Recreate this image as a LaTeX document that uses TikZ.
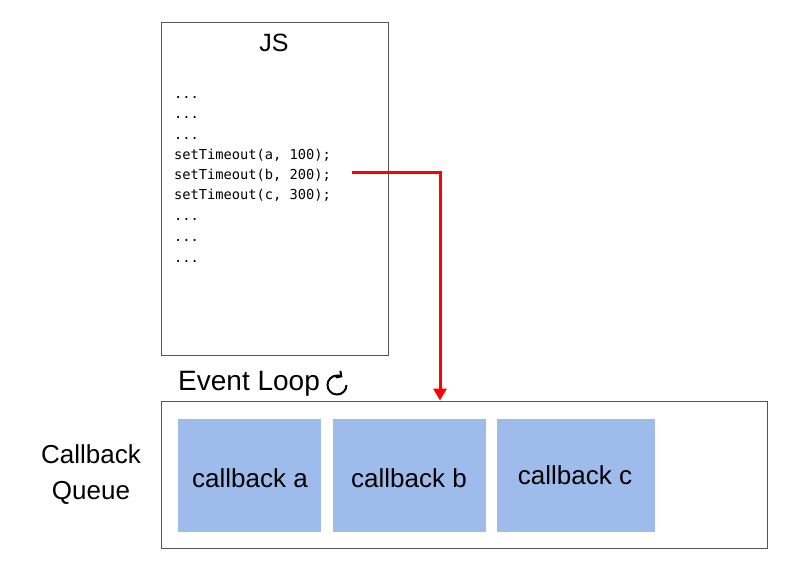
\documentclass[tikz,border=0pt]{standalone}
\usepackage{fontspec}
\setmainfont{Liberation Sans}
\setmonofont{DejaVu Sans Mono}
\usetikzlibrary{arrows.meta}
\definecolor{cbblue}{HTML}{9DBBEB}
\definecolor{boxgray}{HTML}{555555}
\begin{document}
\begin{tikzpicture}[x=1pt,y=-1pt,
  frame/.style={draw=boxgray,line width=1pt,fill=white},
  cbbox/.style={fill=cbblue,draw=none,minimum height=113pt,inner sep=0pt},
  cbtext/.style={inner sep=0pt,font=\fontsize{26}{28}\selectfont},
  codeline/.style={anchor=base west,inner sep=0pt,font=\ttfamily\fontsize{13.7}{16}\selectfont},
  redarrow/.style={draw=red,line width=3pt,-{Triangle[length=12pt,width=13pt]}}]
\useasboundingbox (0,0) rectangle (800,566);
\fill[white] (0,0) rectangle (800,566);
% JS box
\node[frame,minimum width=227pt,minimum height=333pt,inner sep=0pt] (js) at (274.5,188.5) {};
\node[inner sep=0pt,font=\fontsize{25}{28}\selectfont] (jst) at (274,43) {JS};
\node[codeline] (l1) at (174,98) {...};
\node[codeline] (l2) at (174,118) {...};
\node[codeline] (l3) at (174,139) {...};
\node[codeline] (l4) at (174,159) {setTimeout(a, 100);};
\node[codeline] (l5) at (174,179) {setTimeout(b, 200);};
\node[codeline] (l6) at (174,199) {setTimeout(c, 300);};
\node[codeline] (l7) at (174,220) {...};
\node[codeline] (l8) at (174,241) {...};
\node[codeline] (l9) at (174,262) {...};
% Event loop label
\node[anchor=west,inner sep=0pt,font=\fontsize{28}{30}\selectfont] (ev) at (178,384) {Event Loop};
\coordinate (evc) at (337,385);
\draw[line width=2pt,-{Straight Barb[length=4pt,width=8pt]}] ([shift={(0:9.5)}]evc) arc[start angle=0,end angle=305,radius=9.5];
% Queue box
\node[frame,minimum width=606pt,minimum height=147pt,inner sep=0pt] (q) at (464,474.5) {};
\node[cbbox,minimum width=143pt] (ca) at (249.5,475.5) {};
\node[cbbox,minimum width=153pt] (cb) at (409.5,475.5) {};
\node[cbbox,minimum width=158pt] (cc) at (576,475.5) {};
\node[cbtext] (cat) at (250,478) {callback a};
\node[cbtext] (cbt) at (409,478) {callback b};
\node[cbtext] (cct) at (575,475) {callback c};
% Callback Queue label
\node[align=center,inner sep=0pt,font=\fontsize{26}{36}\selectfont] (cq) at (91,475) {Callback\\Queue};
% Arrow
\coordinate (s) at (352,172);
\coordinate (corner) at (440,172);
\draw[redarrow] (s) -- (corner) -- (q.north -| corner);
\end{tikzpicture}
\end{document}
